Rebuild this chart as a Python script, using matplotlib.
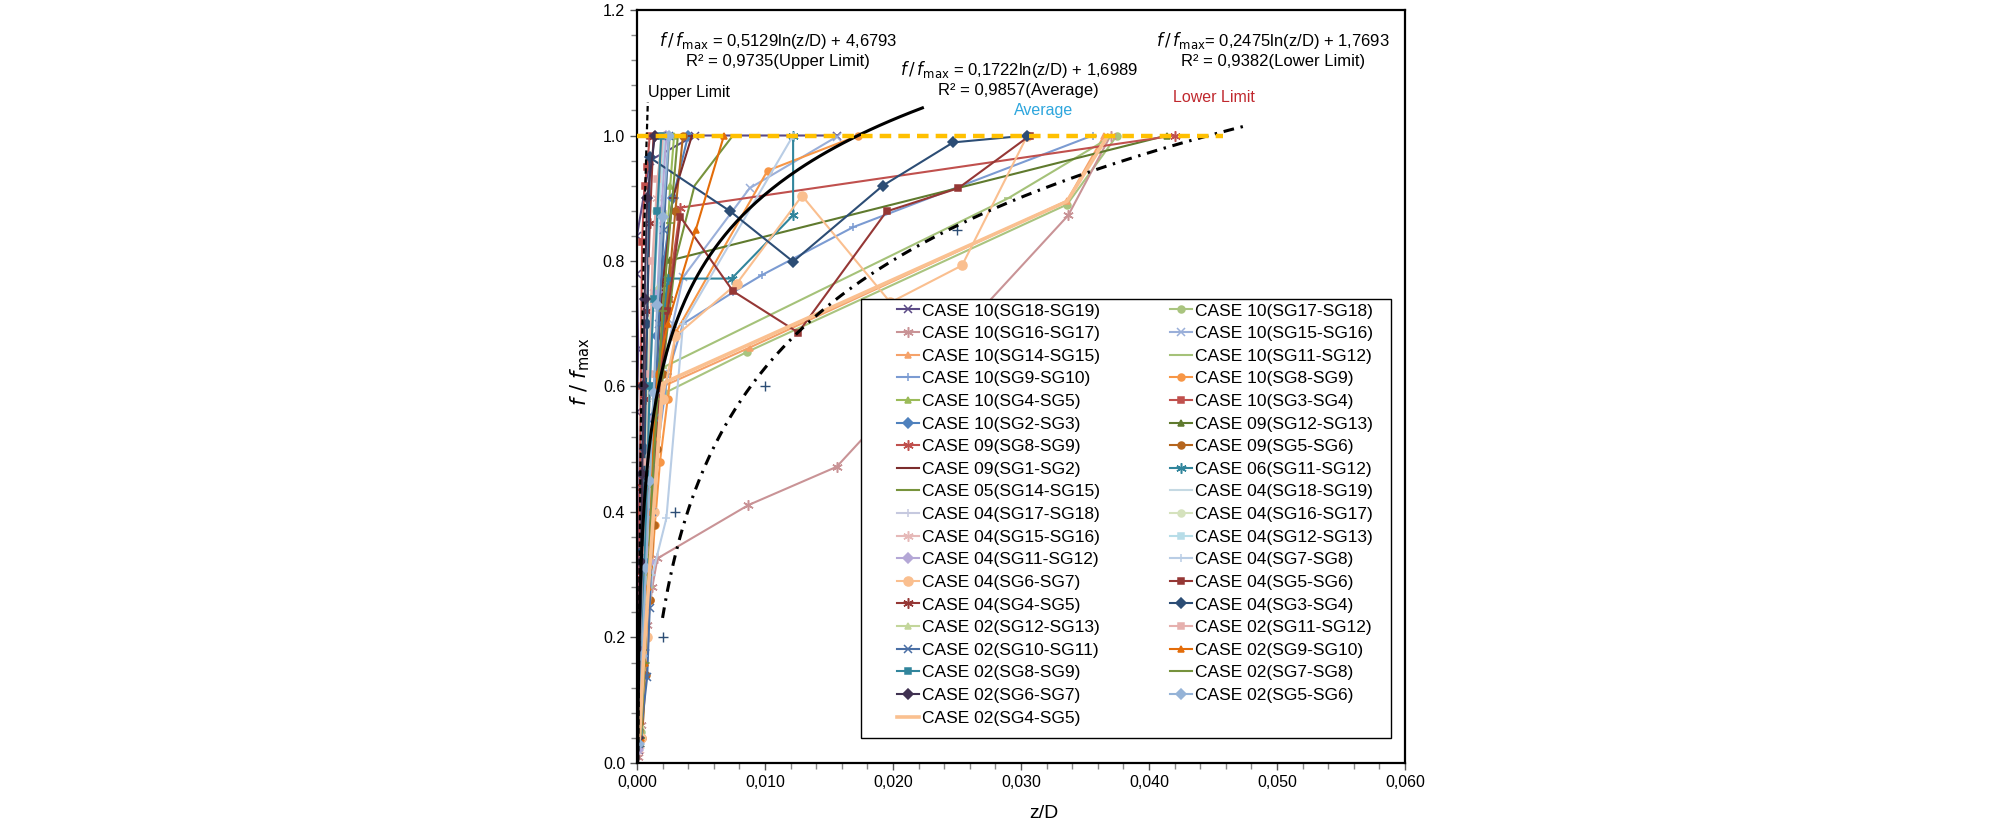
import matplotlib
matplotlib.use("Agg")
import matplotlib.pyplot as plt
from matplotlib.ticker import MultipleLocator, FuncFormatter
from matplotlib.patches import Rectangle
import numpy as np

plt.rcParams['font.family'] = ['Liberation Sans', 'DejaVu Sans']

# ---- data ----
labels = [
    "CASE 10(SG18-SG19)", "CASE 10(SG17-SG18)", "CASE 10(SG16-SG17)", "CASE 10(SG15-SG16)",
    "CASE 10(SG14-SG15)", "CASE 10(SG11-SG12)", "CASE 10(SG9-SG10)", "CASE 10(SG8-SG9)",
    "CASE 10(SG4-SG5)", "CASE 10(SG3-SG4)", "CASE 10(SG2-SG3)", "CASE 09(SG12-SG13)",
    "CASE 09(SG8-SG9)", "CASE 09(SG5-SG6)", "CASE 09(SG1-SG2)", "CASE 06(SG11-SG12)",
    "CASE 05(SG14-SG15)", "CASE 04(SG18-SG19)", "CASE 04(SG17-SG18)", "CASE 04(SG16-SG17)",
    "CASE 04(SG15-SG16)", "CASE 04(SG12-SG13)", "CASE 04(SG11-SG12)", "CASE 04(SG7-SG8)",
    "CASE 04(SG6-SG7)", "CASE 04(SG5-SG6)", "CASE 04(SG4-SG5)", "CASE 04(SG3-SG4)",
    "CASE 02(SG12-SG13)", "CASE 02(SG11-SG12)", "CASE 02(SG10-SG11)", "CASE 02(SG9-SG10)",
    "CASE 02(SG8-SG9)", "CASE 02(SG7-SG8)", "CASE 02(SG6-SG7)", "CASE 02(SG5-SG6)",
    "CASE 02(SG4-SG5)",
]

colors = [
    "#5b4a86", "#a9c47f", "#c99396", "#9aafd9", "#f5a26a", "#a5c279", "#7b9bd2", "#f79646",
    "#9bbb59", "#c0504d", "#4f81bd", "#5f7a2e", "#c0504d", "#b5651d", "#7b2c2c", "#31859c",
    "#77933c", "#c5d9e3", "#c6c9df", "#d5e2bd", "#e6b9b8", "#b7dde8", "#b4a7d6", "#b9cde5",
    "#fabf8f", "#953735", "#953735", "#2c4d75", "#c3d69b", "#e6b0ae", "#4a6fa5", "#e36c09",
    "#31859c", "#76923c", "#403151", "#95b3d7", "#fac090",
]

AST = (6, 2, 0)  # excel style asterisk
markers = [
    "x", "o", AST, "x", "^", "_", "+", "o",
    "^", "s", "D", "^", AST, "o", "_", AST,
    None, None, "+", "o", AST, "s", "D", "+",
    "o", "s", AST, "D", "^", "s", "x", "^",
    "s", "_", "D", "D", None,
]

z_vals = [
    [0.0002, 0.0001, 0.0001, 0.0000, 0.0001, 0.0000, 0.0000, 0.0010, 0.0045, 0.0156],
    [0.0003, 0.0005, 0.0008, 0.0012, 0.0016, 0.0022, 0.0086, 0.0336, 0.0375],
    [0.0001, 0.0003, 0.0005, 0.0008, 0.0012, 0.0016, 0.0087, 0.0156, 0.0337, 0.0370],
    [0.0002, 0.0005, 0.0009, 0.0014, 0.0020, 0.0028, 0.0036, 0.0088, 0.0156],
    [0.0003, 0.0006, 0.0009, 0.0012, 0.0016, 0.0020, 0.0088, 0.0336, 0.0365],
    [0.0004, 0.0007, 0.0010, 0.0013, 0.0016, 0.0020, 0.0290, 0.0372],
    [0.0002, 0.0005, 0.0008, 0.0012, 0.0016, 0.0024, 0.0036, 0.0075, 0.0098, 0.0169, 0.0356],
    [0.0003, 0.0006, 0.0010, 0.0014, 0.0018, 0.0024, 0.0030, 0.0102, 0.0173],
    [0.0003, 0.0006, 0.0009, 0.0012, 0.0015, 0.0018, 0.0022, 0.0026, 0.0029],
    [0.0001, 0.0002, 0.0002, 0.0003, 0.0004, 0.0006, 0.0008, 0.0010],
    [0.0002, 0.0004, 0.0006, 0.0009, 0.0012, 0.0016, 0.0021, 0.0028, 0.0040],
    [0.0003, 0.0005, 0.0008, 0.0011, 0.0014, 0.0018, 0.0022, 0.0026, 0.0414],
    [0.0002, 0.0004, 0.0006, 0.0009, 0.0013, 0.0018, 0.0024, 0.0034, 0.0420],
    [0.0004, 0.0007, 0.0010, 0.0013, 0.0016, 0.0020, 0.0024, 0.0030, 0.0036],
    [0.0002, 0.0004, 0.0006, 0.0008, 0.0011, 0.0015, 0.0020, 0.0028, 0.0043],
    [0.0002, 0.0004, 0.0006, 0.0009, 0.0012, 0.0016, 0.0024, 0.0074, 0.0122, 0.0122],
    [0.0003, 0.0006, 0.0009, 0.0012, 0.0016, 0.0022, 0.0030, 0.0045, 0.0075],
    [0.0001, 0.0002, 0.0003, 0.0004, 0.0006, 0.0008, 0.0010, 0.0013],
    [0.0002, 0.0003, 0.0005, 0.0007, 0.0009, 0.0012, 0.0016, 0.0020],
    [0.0001, 0.0003, 0.0004, 0.0006, 0.0008, 0.0011, 0.0015, 0.0019],
    [0.0002, 0.0003, 0.0005, 0.0008, 0.0010, 0.0013, 0.0016, 0.0021],
    [0.0002, 0.0004, 0.0006, 0.0008, 0.0010, 0.0013, 0.0017, 0.0022],
    [0.0001, 0.0003, 0.0005, 0.0010, 0.0013, 0.0016, 0.0019, 0.0023],
    [0.0003, 0.0007, 0.0012, 0.0023, 0.0036, 0.0122],
    [0.0003, 0.0008, 0.0013, 0.0020, 0.0030, 0.0078, 0.0129, 0.0198, 0.0254, 0.0305],
    [0.0002, 0.0004, 0.0007, 0.0011, 0.0016, 0.0024, 0.0034, 0.0075, 0.0126, 0.0195, 0.0251, 0.0307],
    [0.0001, 0.0002, 0.0003, 0.0004, 0.0006, 0.0008, 0.0010, 0.0013],
    [0.0002, 0.0003, 0.0005, 0.0006, 0.0008, 0.0010, 0.0073, 0.0122, 0.0192, 0.0247, 0.0305],
    [0.0003, 0.0005, 0.0008, 0.0011, 0.0014, 0.0017, 0.0021, 0.0026],
    [0.0002, 0.0004, 0.0006, 0.0008, 0.0010, 0.0012, 0.0016, 0.0020],
    [0.0002, 0.0008, 0.0010, 0.0012, 0.0014, 0.0017, 0.0021, 0.0025],
    [0.0003, 0.0006, 0.0009, 0.0011, 0.0013, 0.0016, 0.0024, 0.0046, 0.0068],
    [0.0002, 0.0004, 0.0006, 0.0008, 0.0010, 0.0013, 0.0016, 0.0019],
    [0.0003, 0.0006, 0.0009, 0.0012, 0.0016, 0.0020, 0.0026, 0.0032],
    [0.0001, 0.0002, 0.0003, 0.0004, 0.0005, 0.0006, 0.0008, 0.0014],
    [0.0002, 0.0004, 0.0007, 0.0010, 0.0013, 0.0016, 0.0020, 0.0025],
    [0.0002, 0.0005, 0.0009, 0.0013, 0.0017, 0.0020, 0.0336, 0.0368],
]

f_vals = [
    [0.02, 0.14, 0.35, 0.56, 0.66, 0.78, 0.84, 0.96, 1.0, 1.0],
    [0.05, 0.20, 0.35, 0.46, 0.55, 0.59, 0.655, 0.89, 1.0],
    [0.01, 0.06, 0.14, 0.22, 0.28, 0.326, 0.411, 0.472, 0.873, 1.0],
    [0.04, 0.20, 0.36, 0.52, 0.62, 0.70, 0.774, 0.916, 0.998],
    [0.04, 0.16, 0.28, 0.40, 0.50, 0.60, 0.662, 0.896, 1.0],
    [0.04, 0.16, 0.28, 0.40, 0.52, 0.63, 0.90, 1.0],
    [0.03, 0.14, 0.26, 0.38, 0.50, 0.62, 0.70, 0.75, 0.778, 0.854, 1.0],
    [0.04, 0.14, 0.26, 0.38, 0.48, 0.58, 0.685, 0.944, 1.0],
    [0.03, 0.14, 0.26, 0.40, 0.52, 0.64, 0.78, 0.92, 1.0],
    [0.06, 0.20, 0.40, 0.60, 0.83, 0.92, 0.95, 1.0],
    [0.04, 0.16, 0.28, 0.42, 0.55, 0.68, 0.80, 0.90, 1.0],
    [0.04, 0.16, 0.28, 0.39, 0.49, 0.62, 0.72, 0.801, 1.0],
    [0.03, 0.14, 0.26, 0.38, 0.50, 0.62, 0.74, 0.885, 1.0],
    [0.04, 0.14, 0.26, 0.38, 0.50, 0.62, 0.74, 0.88, 1.0],
    [0.03, 0.14, 0.26, 0.38, 0.50, 0.62, 0.76, 0.90, 1.0],
    [0.03, 0.14, 0.26, 0.38, 0.50, 0.62, 0.772, 0.772, 0.873, 1.0],
    [0.04, 0.16, 0.28, 0.40, 0.52, 0.66, 0.80, 0.92, 1.0],
    [0.04, 0.18, 0.32, 0.46, 0.60, 0.74, 0.88, 1.0],
    [0.03, 0.16, 0.30, 0.44, 0.58, 0.72, 0.86, 1.0],
    [0.05, 0.18, 0.32, 0.46, 0.60, 0.74, 0.88, 1.0],
    [0.02, 0.15, 0.30, 0.45, 0.60, 0.75, 0.90, 1.0],
    [0.04, 0.18, 0.32, 0.46, 0.60, 0.74, 0.88, 1.0],
    [0.02, 0.16, 0.30, 0.32, 0.55, 0.75, 0.88, 1.0],
    [0.04, 0.18, 0.30, 0.39, 0.70, 1.0],
    [0.04, 0.20, 0.40, 0.58, 0.68, 0.764, 0.904, 0.734, 0.793, 1.0],
    [0.03, 0.14, 0.26, 0.40, 0.55, 0.72, 0.87, 0.752, 0.686, 0.879, 0.916, 1.0],
    [0.03, 0.16, 0.30, 0.44, 0.58, 0.72, 0.86, 1.0],
    [0.04, 0.18, 0.34, 0.50, 0.70, 0.965, 0.879, 0.799, 0.920, 0.989, 1.0],
    [0.06, 0.20, 0.34, 0.48, 0.62, 0.76, 0.88, 1.0],
    [0.08, 0.20, 0.34, 0.48, 0.62, 0.80, 0.93, 1.0],
    [0.03, 0.137, 0.247, 0.40, 0.55, 0.70, 0.85, 1.0],
    [0.04, 0.16, 0.28, 0.40, 0.52, 0.62, 0.70, 0.85, 1.0],
    [0.05, 0.18, 0.32, 0.46, 0.60, 0.74, 0.88, 1.0],
    [0.04, 0.16, 0.30, 0.44, 0.58, 0.72, 0.86, 1.0],
    [0.04, 0.18, 0.32, 0.46, 0.60, 0.74, 0.90, 1.0],
    [0.03, 0.17, 0.31, 0.45, 0.59, 0.73, 0.87, 1.0],
    [0.04, 0.16, 0.28, 0.40, 0.52, 0.605, 0.895, 1.0],
]

# lower-limit points shown as loose '+' marks
lower_pts_z = [0.0020, 0.0030, 0.0100, 0.0202, 0.0250]
lower_pts_f = [0.20, 0.40, 0.60, 0.70, 0.85]

# trend lines: f/fmax = a*ln(z/D) + b, and the z/D span they are drawn over
upper_fit = (0.5129, 4.6793, 0.00011, 0.00085)
avg_fit = (0.1722, 1.6989, 0.000052, 0.0223)
lower_fit = (0.2475, 1.7693, 0.0020, 0.0478)

ref_line_z = [0.0, 0.0458]
ref_line_f = [1.0, 1.0]

# ---- plot ----
fig = plt.figure(figsize=(20.08, 8.27), dpi=100)
ax = fig.add_axes([0.3172, 0.0774, 0.3825, 0.9105])

handles = []
for i in range(len(labels)):
    lw = 2.6 if i == 36 else 1.5
    m = markers[i]
    if i == 24:
        ms = 6.5
    elif m == AST:
        ms = 7.5
    elif m in ("x", "+", "_"):
        ms = 6
    else:
        ms = 5
    h, = ax.plot(z_vals[i], f_vals[i], color=colors[i], marker=m,
                 markersize=ms, lw=lw, label=labels[i], zorder=2 + i * 0.01,
                 markeredgewidth=1.1)
    handles.append(h)

ax.plot(lower_pts_z, lower_pts_f, ls='none', marker='+', color='#2c4d75',
        markersize=7, markeredgewidth=1.0, zorder=3)

def trend(fit):
    a, b, z0, z1 = fit
    zz = np.geomspace(z0, z1, 300)
    return zz, a * np.log(zz) + b

zz, ff = trend(upper_fit)
ax.plot(zz, ff, color='black', lw=1.6, dashes=(2.5, 1.5), zorder=5)
zz, ff = trend(avg_fit)
ax.plot(zz, ff, color='black', lw=2.2, zorder=5)
zz, ff = trend(lower_fit)
ax.plot(zz, ff, color='black', lw=2.2, dashes=(3.5, 2.2, 0.8, 2.2), zorder=5)

ax.plot(ref_line_z, ref_line_f, color='#ffc000', lw=3.2, dashes=(2.6, 1.6), zorder=6)

ax.set_xlim(0, 0.06)
ax.set_ylim(0, 1.2)
ax.xaxis.set_major_locator(MultipleLocator(0.01))
ax.xaxis.set_minor_locator(MultipleLocator(0.002))
ax.yaxis.set_major_locator(MultipleLocator(0.2))
ax.yaxis.set_minor_locator(MultipleLocator(0.04))
ax.xaxis.set_major_formatter(FuncFormatter(lambda v, p: f"{v:.3f}".replace('.', ',')))
ax.yaxis.set_major_formatter(FuncFormatter(lambda v, p: f"{v:.1f}"))
ax.tick_params(axis='both', which='major', labelsize=11.5, length=5, width=1, color='#555555')
ax.tick_params(axis='both', which='minor', length=4, width=1, color='#888888')
for s in ax.spines.values():
    s.set_linewidth(1.6)
    s.set_color('black')

ax.set_xlabel("z/D", fontsize=14)
ax.xaxis.set_label_coords(0.53, -0.056)
ax.set_ylabel(r"$f\ /\ f_{\mathrm{max}}$", fontsize=15)
ax.yaxis.set_label_coords(-0.058, 0.52)

# equations and labels
ax.text(0.1836, 0.9475, r"$f\,/\,f_{\mathrm{max}}$ = 0,5129ln(z/D) + 4,6793" + "\n" + "R² = 0,9735(Upper Limit)",
        transform=ax.transAxes, ha='center', va='center', fontsize=12, linespacing=1.25)
ax.text(0.497, 0.909, r"$f\,/\,f_{\mathrm{max}}$ = 0,1722ln(z/D) + 1,6989" + "\n" + "R² = 0,9857(Average)",
        transform=ax.transAxes, ha='center', va='center', fontsize=12, linespacing=1.25)
ax.text(0.828, 0.948, r"$f\,/\,f_{\mathrm{max}}$= 0,2475ln(z/D) + 1,7693" + "\n" + "R² = 0,9382(Lower Limit)",
        transform=ax.transAxes, ha='center', va='center', fontsize=12, linespacing=1.25)
ax.text(0.0677, 0.891, "Upper Limit", transform=ax.transAxes, ha='center', va='center', fontsize=11.5)
ax.text(0.530, 0.867, "Average", transform=ax.transAxes, ha='center', va='center',
        fontsize=11.5, color='#2ea6dd')
ax.text(0.751, 0.884, "Lower Limit", transform=ax.transAxes, ha='center', va='center',
        fontsize=11.5, color='#c0282e')

# legend: frame drawn separately, entries ordered row by row like the original
ax.add_patch(Rectangle((0.2917, 0.0332), 0.6901, 0.5830, transform=ax.transAxes,
                       facecolor='white', edgecolor='black', lw=1.0, zorder=7))
order = list(range(0, len(labels), 2)) + list(range(1, len(labels), 2))
leg = ax.legend([handles[k] for k in order], [labels[k] for k in order],
                ncol=2, loc='upper left', bbox_to_anchor=(0.3385, 0.6104),
                frameon=False, fontsize=12.5, handlelength=1.3, handletextpad=0.15,
                columnspacing=4.0, labelspacing=0.43, borderpad=0, borderaxespad=0)
leg.set_zorder(8)

fig.savefig("out.png", dpi=100)
